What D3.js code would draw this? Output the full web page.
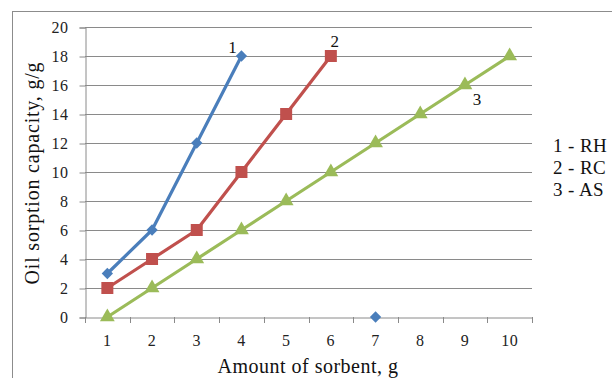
<!DOCTYPE html>
<html>
<head>
<meta charset="utf-8">
<script src="https://cdn.jsdelivr.net/npm/d3@7"></script>
<style>
  body { margin: 0; background: #fff; }
  .tick text { font-family: "Liberation Serif", serif; font-size: 16px; fill: #222; letter-spacing: 0.5px; }
</style>
</head>
<body>
<div id="chart"></div>
<script>
// Data
const categories = [1, 2, 3, 4, 5, 6, 7, 8, 9, 10];
const rhValues = [3, 6, 12, 18, null, null, 0, null, null, null];
const rcValues = [2, 4, 6, 10, 14, 18, null, null, null, null];
const asValues = [0, 2, 4, 6, 8, 10, 12, 14, 16, 18];
const yTicks = [0, 2, 4, 6, 8, 10, 12, 14, 16, 18, 20];
const legendLabels = ["1 - RH", "2 - RC", "3 - AS"];

const width = 612, height = 378;
const svg = d3.select("#chart").append("svg")
    .attr("width", width)
    .attr("height", height);

// Outer chart border
svg.append("rect")
    .attr("x", 12.5).attr("y", 11.5)
    .attr("width", 620).attr("height", 400)
    .attr("fill", "none")
    .attr("stroke", "#8c8c8c");

const x = d3.scaleBand().domain(categories).range([85, 532]).padding(0);
const y = d3.scaleLinear().domain([0, 20]).range([317, 27]);
const cx = d => x(d) + x.bandwidth() / 2;

// Gridlines
svg.append("g")
    .selectAll("line")
    .data(yTicks.filter(t => t > 0))
    .enter().append("line")
    .attr("x1", 85).attr("x2", 532)
    .attr("y1", d => Math.round(y(d)) + 0.5)
    .attr("y2", d => Math.round(y(d)) + 0.5)
    .attr("stroke", "#8a8a8a");

// Y axis
const yAxis = svg.append("g")
    .attr("transform", "translate(85.5,0.5)")
    .call(d3.axisLeft(y).tickValues(yTicks).tickSize(6).tickPadding(11));
yAxis.select(".domain").attr("stroke", "#8a8a8a");
yAxis.selectAll(".tick line").attr("stroke", "#8a8a8a");

// X axis (labels centred in bands, ticks on band edges)
const xAxis = svg.append("g")
    .attr("transform", "translate(0,317.5)")
    .call(d3.axisBottom(x).tickSize(0).tickPadding(17));
xAxis.select(".domain").attr("stroke", "#8a8a8a");
svg.append("g")
    .selectAll("line")
    .data(categories.map(c => x(c)).concat([x(10) + x.bandwidth()]))
    .enter().append("line")
    .attr("x1", d => Math.round(d) + 0.5).attr("x2", d => Math.round(d) + 0.5)
    .attr("y1", 317).attr("y2", 323)
    .attr("stroke", "#8a8a8a");

// Series
const series = [
    { values: rhValues, color: "#4a7ebb", shape: d3.symbolSquare, size: 64, rot: 45 },
    { values: rcValues, color: "#c0504d", shape: d3.symbolSquare, size: 144, rot: 0 },
    { values: asValues, color: "#9bbb59", shape: d3.symbolTriangle, size: 95, rot: 0 }
];

const line = d3.line()
    .defined(d => d.v !== null)
    .x(d => cx(d.c))
    .y(d => y(d.v));

series.forEach(s => {
    const pts = categories.map((c, i) => ({ c: c, v: s.values[i] }));
    svg.append("path")
        .datum(pts)
        .attr("fill", "none")
        .attr("stroke", s.color)
        .attr("stroke-width", 3.2)
        .attr("stroke-linejoin", "round")
        .attr("d", line);
    svg.append("g")
        .selectAll("path")
        .data(pts.filter(d => d.v !== null))
        .enter().append("path")
        .attr("d", d3.symbol().type(s.shape).size(s.size))
        .attr("transform", d => `translate(${cx(d.c)},${y(d.v)}) rotate(${s.rot})`)
        .attr("fill", s.color);
});

// Curve numbers
const curveLabels = [
    { t: "1", c: 4, v: 18, dx: -9, dy: -3 },
    { t: "2", c: 6, v: 18, dx: 4, dy: -9 },
    { t: "3", c: 9, v: 16, dx: 12, dy: 20 }
];
svg.append("g")
    .selectAll("text")
    .data(curveLabels)
    .enter().append("text")
    .attr("x", d => cx(d.c) + d.dx)
    .attr("y", d => y(d.v) + d.dy)
    .attr("text-anchor", "middle")
    .attr("font-family", "Liberation Serif, serif")
    .attr("font-size", 17)
    .attr("fill", "#111")
    .text(d => d.t);

// Legend
svg.append("g")
    .selectAll("text")
    .data(legendLabels)
    .enter().append("text")
    .attr("x", 553)
    .attr("y", (d, i) => 152 + i * 22)
    .attr("font-family", "Liberation Serif, serif")
    .attr("font-size", 19)
    .attr("letter-spacing", 0.4)
    .attr("fill", "#111")
    .text(d => d);

// Axis titles
svg.append("text")
    .attr("transform", "translate(39,173) rotate(-90)")
    .attr("text-anchor", "middle")
    .attr("font-family", "Liberation Serif, serif")
    .attr("font-size", 20)
    .attr("letter-spacing", 0.8)
    .attr("fill", "#111")
    .text("Oil sorption capacity, g/g");

svg.append("text")
    .attr("x", 308)
    .attr("y", 373)
    .attr("text-anchor", "middle")
    .attr("font-family", "Liberation Serif, serif")
    .attr("font-size", 20)
    .attr("letter-spacing", 0.5)
    .attr("fill", "#111")
    .text("Amount of sorbent, g");
</script>
</body>
</html>
